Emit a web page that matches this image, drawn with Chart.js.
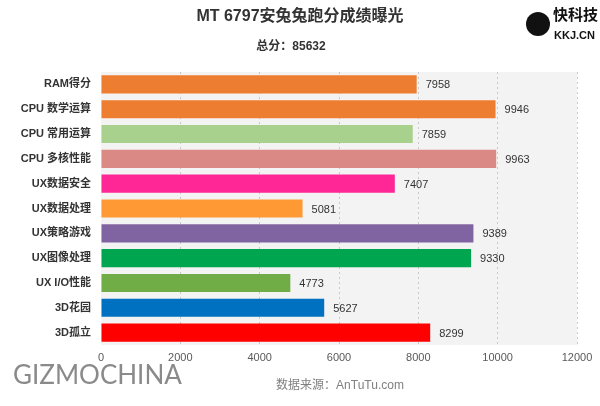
<!DOCTYPE html>
<html>
<head>
<meta charset="utf-8">
<script src="https://cdn.jsdelivr.net/npm/chart.js@4"></script>
<style>
  html, body { margin: 0; padding: 0; background: #fff; }
  #wrap { width: 600px; height: 406px; }
</style>
</head>
<body>
<div id="wrap"><canvas id="myChart"></canvas></div>
<script>
var categories = ['RAM得分', 'CPU 数学运算', 'CPU 常用运算', 'CPU 多核性能', 'UX数据安全', 'UX数据处理',
    'UX策略游戏', 'UX图像处理', 'UX I/O性能', '3D花园', '3D孤立'];
var scores = [7958, 9946, 7859, 9963, 7407, 5081, 9389, 9330, 4773, 5627, 8299];
var barColors = ['#ED7D31', '#ED7D31', '#A9D18E', '#DA8985', '#FF2696', '#FF9933',
    '#8064A2', '#00A550', '#70AD47', '#0070C0', '#FF0000'];
var xTicks = [0, 2000, 4000, 6000, 8000, 10000, 12000];
var titleText = 'MT 6797安兔兔跑分成绩曝光';
var totalText = '总分：85632';
var sourceText = '数据来源：AnTuTu.com';

var FONT = "'Liberation Sans', 'Noto Sans CJK SC', sans-serif";

// grey plot background + titles + watermarks
var decor = {
    id: 'decor',
    beforeDraw: function(chart) {
        var c = chart.ctx, a = chart.chartArea;
        c.save();
        c.fillStyle = '#f3f3f3';
        c.fillRect(a.left, a.top, a.right - a.left, a.bottom - a.top);
        c.restore();
    },
    afterDraw: function(chart) {
        var c = chart.ctx;
        c.save();
        c.textAlign = 'center';
        c.textBaseline = 'middle';
        c.fillStyle = '#333';
        c.font = 'bold 16px ' + FONT;
        c.fillText(titleText, 300, 17);
        c.font = 'bold 12px ' + FONT;
        c.fillText(totalText, 291, 47);
        c.fillStyle = '#808080';
        c.font = '12px ' + FONT;
        c.fillText(sourceText, 340, 386);

        // watermark: kkj
        c.fillStyle = '#111';
        c.beginPath();
        c.arc(538, 24, 12, 0, Math.PI * 2);
        c.fill();
        c.textAlign = 'left';
        c.font = 'bold 15px ' + FONT;
        c.fillText('快科技', 553, 16);
        c.font = 'bold 11px ' + FONT;
        c.fillText('KKJ.CN', 554, 36);

        // watermark: gizmochina
        c.fillStyle = '#8a8a8a';
        c.font = '26px Lato, ' + FONT;
        c.fillText('GIZMOCHINA', 13, 376);
        c.restore();
    }
};

// value labels at the end of each bar
var valueLabels = {
    id: 'valueLabels',
    afterDatasetsDraw: function(chart) {
        var c = chart.ctx;
        var meta = chart.getDatasetMeta(0);
        c.save();
        c.fillStyle = '#333';
        c.font = '11px ' + FONT;
        c.textAlign = 'left';
        c.textBaseline = 'middle';
        meta.data.forEach(function(bar, i) {
            c.fillText(String(scores[i]), bar.x + 9, bar.y + 1);
        });
        c.restore();
    }
};

var ctx = document.getElementById('myChart').getContext('2d');
var myChart = new Chart(ctx, {
    type: 'bar',
    data: {
        labels: categories,
        datasets: [{
            data: scores,
            backgroundColor: barColors,
            borderWidth: 0,
            categoryPercentage: 0.73,
            barPercentage: 1
        }]
    },
    options: {
        indexAxis: 'y',
        responsive: true,
        maintainAspectRatio: false,
        animation: false,
        layout: { padding: { top: 72, right: 23, left: 0, bottom: 0 } },
        plugins: {
            legend: { display: false },
            tooltip: { enabled: false }
        },
        scales: {
            x: {
                min: 0,
                max: 12000,
                afterBuildTicks: function(scale) {
                    scale.ticks = xTicks.map(function(v) { return { value: v }; });
                },
                afterFit: function(scale) { scale.height = 61; },
                border: { display: false, dash: [2, 3] },
                grid: {
                    color: function(c) { return c.tick && c.tick.value === 0 ? 'rgba(0,0,0,0)' : '#c8c8c8'; },
                    drawTicks: false
                },
                ticks: {
                    padding: 6,
                    color: '#595959',
                    font: { size: 11, family: FONT },
                    callback: function(value) { return String(value); }
                }
            },
            y: {
                afterFit: function(scale) { scale.width = 101; },
                border: { display: false },
                grid: { display: false, drawTicks: false },
                ticks: {
                    padding: 10,
                    color: '#333',
                    font: { size: 11, weight: 'bold', family: FONT }
                }
            }
        }
    },
    plugins: [decor, valueLabels]
});
</script>
</body>
</html>
